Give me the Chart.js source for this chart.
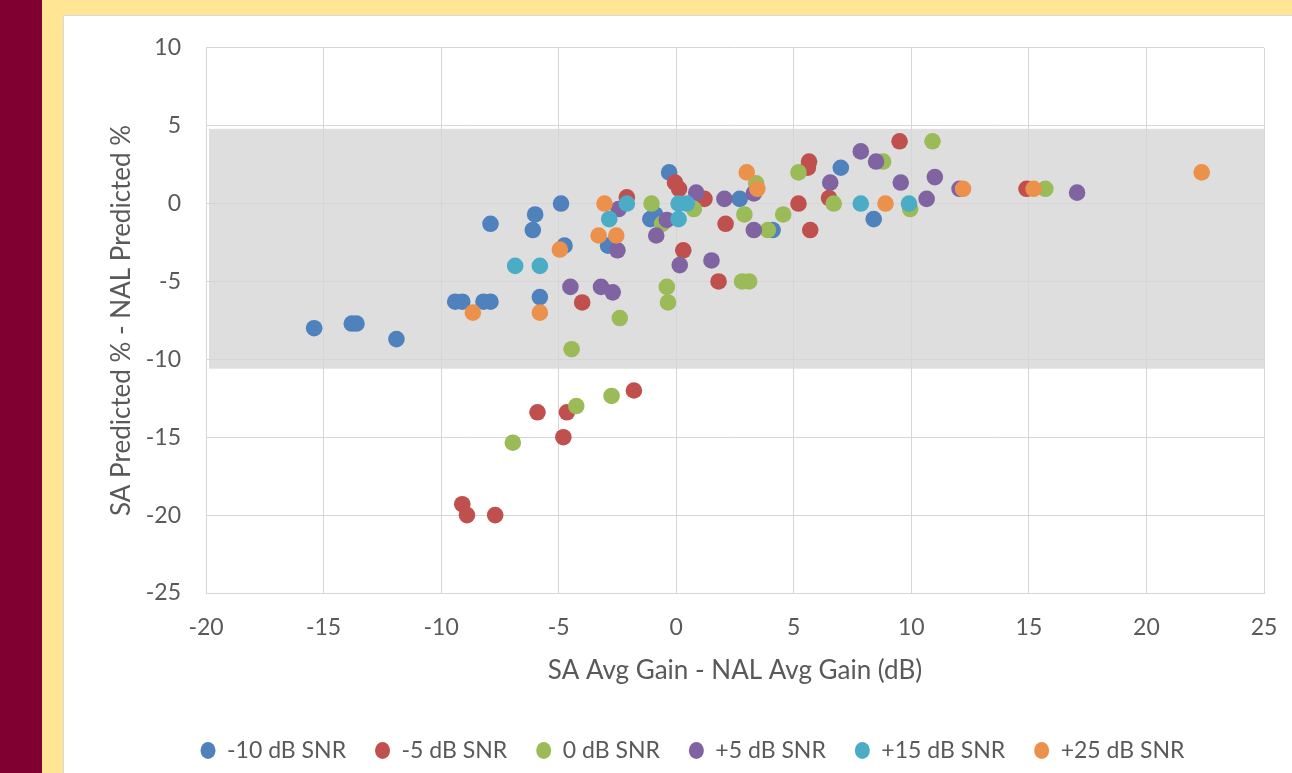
<!DOCTYPE html>
<html>
<head>
<meta charset="utf-8">
<script src="https://cdn.jsdelivr.net/npm/chart.js@4/dist/chart.umd.min.js"></script>
<style>
  html, body { margin: 0; padding: 0; width: 1292px; height: 773px; overflow: hidden; background: #ffe594; position: relative; }
  #strip { position: absolute; left: 0; top: 0; width: 42px; height: 773px; background: #7f0031; }
  #card { position: absolute; left: 63px; top: 15px; width: 1300px; height: 800px; background: #fff; border: 1px solid #d9d9d9; }
  #chart { position: absolute; left: 64px; top: 16px; }
</style>
</head>
<body>
<div id="strip"></div>
<div id="card"></div>
<canvas id="chart" width="1257" height="757"></canvas>
<script>
// series names and colours
var snrNames = ['-10 dB SNR', '-5 dB SNR', '0 dB SNR', '+5 dB SNR', '+15 dB SNR', '+25 dB SNR'];
var snrColors = ['#4f81bd', '#c0504d', '#9bbb59', '#8064a2', '#4bacc6', '#ec914c'];

// x = SA avg gain - NAL avg gain (dB), y = SA predicted % - NAL predicted %
var gainM10 = [-15.4, -13.8, -13.6, -11.9, -9.4, -9.1, -8.2, -7.9, -7.9, -6.0, -6.1, -5.8, -4.9, -4.75, -2.9, -1.1, -0.9, -0.3, 2.7, 4.1, 7.0, 8.4];
var predM10 = [-8.0, -7.7, -7.7, -8.7, -6.3, -6.3, -6.3, -6.3, -1.3, -0.7, -1.7, -6.0, 0.0, -2.7, -2.7, -1.0, -0.7, 2.0, 0.3, -1.7, 2.3, -1.0];

var gainM5 = [-9.1, -8.9, -7.7, -5.9, -4.65, -4.8, -1.8, -4.0, -2.1, -0.05, 0.12, 1.2, 0.3, 2.1, 1.8, 5.2, 5.65, 5.6, 5.7, 6.5, 9.5, 14.9];
var predM5 = [-19.3, -20.0, -20.0, -13.4, -13.4, -15.0, -12.0, -6.35, 0.4, 1.35, 0.95, 0.3, -3.0, -1.3, -5.0, 0.0, 2.7, 2.3, -1.7, 0.35, 4.0, 0.95];

var gain0 = [-6.95, -4.25, -2.75, -4.45, -2.4, -1.05, -0.6, -0.4, -0.35, 0.75, 2.9, 2.8, 3.1, 3.4, 3.9, 4.55, 5.2, 6.7, 8.8, 10.9, 9.95, 15.7];
var pred0 = [-15.35, -13.0, -12.35, -9.35, -7.35, 0.0, -1.3, -5.35, -6.35, -0.35, -0.7, -5.0, -5.0, 1.3, -1.7, -0.7, 2.0, 0.0, 2.7, 4.0, -0.35, 0.95];

var gainP5 = [-4.5, -3.2, -2.7, -2.5, -2.45, -0.85, -0.4, 0.15, 0.85, 2.05, 1.5, 3.3, 3.3, 6.55, 7.85, 8.5, 9.55, 11.0, 10.65, 12.05, 17.05];
var predP5 = [-5.35, -5.35, -5.7, -3.0, -0.35, -2.05, -1.05, -3.95, 0.7, 0.3, -3.65, 0.65, -1.7, 1.35, 3.35, 2.7, 1.35, 1.7, 0.3, 0.95, 0.7];

var gainP15 = [-6.85, -5.8, -2.85, -2.1, 0.1, 0.1, 0.45, 7.85, 9.9];
var predP15 = [-4.0, -4.0, -1.0, 0.0, -1.0, 0.0, 0.0, 0.0, 0.0];

var gainP25 = [-8.65, -5.8, -4.95, -3.05, -3.3, -2.55, 3.0, 3.45, 8.9, 12.2, 15.2, 22.35];
var predP25 = [-7.0, -7.0, -2.95, 0.0, -2.05, -2.05, 2.0, 0.95, 0.0, 0.95, 0.95, 2.0];

// shaded range of the y axis
var bandLow = -10.6;
var bandHigh = 4.8;

var gains = [gainM10, gainM5, gain0, gainP5, gainP15, gainP25];
var preds = [predM10, predM5, pred0, predP5, predP15, predP25];

function toPoints(xs, ys) {
  var pts = [];
  for (var i = 0; i < xs.length; i++) pts.push({x: xs[i], y: ys[i]});
  return pts;
}

var datasets = snrNames.map(function (name, i) {
  return {
    label: name,
    data: toPoints(gains[i], preds[i]),
    backgroundColor: snrColors[i],
    borderWidth: 0,
    pointRadius: 8.3,
    pointHoverRadius: 8.3,
    pointBorderWidth: 0,
    order: snrNames.length - i   // later series drawn on top
  };
});

// grey band behind the grid
var bandPlugin = {
  id: 'snrBand',
  beforeDraw: function (chart) {
    var area = chart.chartArea;
    var y = chart.scales.y;
    var top = y.getPixelForValue(bandHigh);
    var bottom = y.getPixelForValue(bandLow);
    var c = chart.ctx;
    c.save();
    c.fillStyle = '#dedede';
    c.fillRect(area.left + 3, top, area.right - area.left - 3, bottom - top);
    c.restore();
  }
};

Chart.defaults.font.family = 'Lato';
Chart.defaults.color = '#595959';

var gridColor = '#d6d6d6';

var ctx = document.getElementById('chart').getContext('2d');
var myChart = new Chart(ctx, {
  type: 'scatter',
  data: { datasets: datasets },
  options: {
    responsive: false,
    animation: false,
    devicePixelRatio: 1,
    layout: { padding: { top: 25, right: 0, bottom: 1, left: 0 } },
    plugins: {
      legend: {
        position: 'bottom',
        labels: {
          usePointStyle: true,
          pointStyle: 'circle',
          boxHeight: 12,
          pointStyleWidth: 15,
          padding: 29,
          color: '#595959',
          font: { size: 23 },
          sort: function (a, b) { return a.datasetIndex - b.datasetIndex; }
        }
      },
      tooltip: { enabled: false }
    },
    scales: {
      x: {
        type: 'linear',
        min: -20,
        max: 25,
        ticks: { stepSize: 5, padding: 21, font: { size: 23 } },
        grid: { color: gridColor, drawTicks: false },
        border: { color: gridColor },
        title: {
          display: true,
          text: 'SA Avg Gain - NAL Avg Gain (dB)',
          font: { size: 26 },
          padding: { top: 0, bottom: 24 }
        },
        afterFit: function (s) { s.height = 117; }
      },
      y: {
        type: 'linear',
        min: -25,
        max: 10,
        // invisible tick marks keep the label gap without extra top padding
        ticks: { stepSize: 5, padding: 18, font: { size: 23 } },
        grid: { color: gridColor, drawTicks: true, tickLength: 7, tickColor: 'rgba(0,0,0,0)' },
        border: { color: gridColor },
        title: {
          display: true,
          text: 'SA Predicted % - NAL Predicted %',
          font: { size: 26 },
          padding: { top: 42, bottom: 0 }
        },
        afterFit: function (s) { s.width = 142; }
      },
      // empty axis that only reserves room on the right
      yRight: {
        type: 'linear',
        position: 'right',
        display: true,
        ticks: { display: false },
        grid: { display: false, drawTicks: false },
        border: { display: false },
        afterFit: function (s) { s.width = 57; }
      }
    }
  },
  plugins: [bandPlugin]
});
</script>
</body>
</html>
